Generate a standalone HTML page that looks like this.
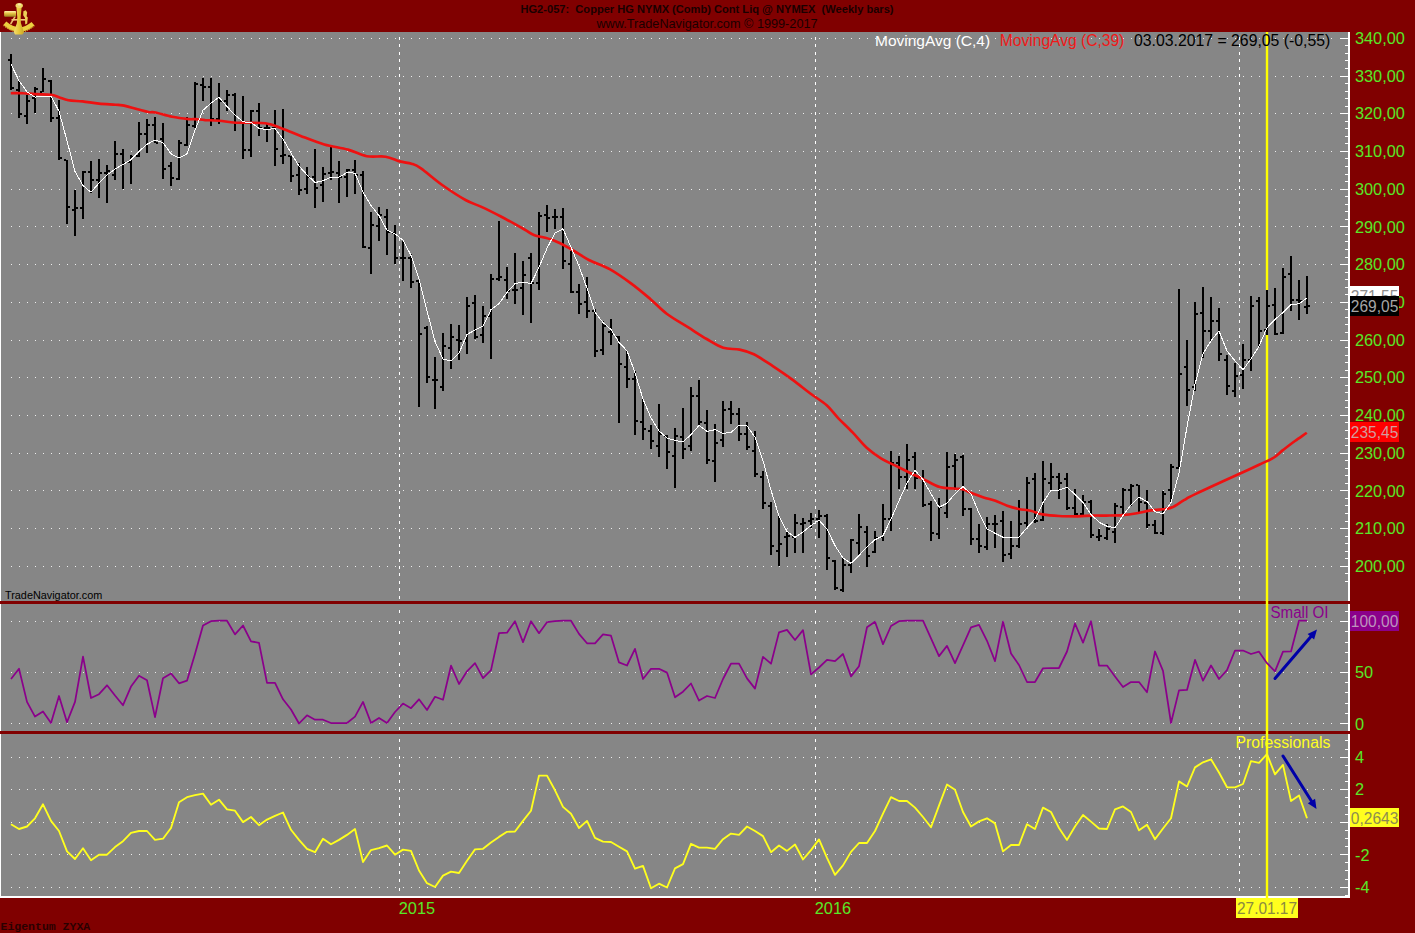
<!DOCTYPE html><html><head><meta charset="utf-8"><title>chart</title><style>
html,body{margin:0;padding:0;background:#800000;}
body{width:1415px;height:933px;overflow:hidden;position:relative;font-family:"Liberation Sans",sans-serif;}
svg{position:absolute;left:0;top:0;}
text{font-family:"Liberation Sans",sans-serif;}
.mono{font-family:"Liberation Mono",monospace;}
</style></head><body>
<svg width="1415" height="933" viewBox="0 0 1415 933">
<rect x="0" y="0" width="1415" height="933" fill="#800000"/>
<rect x="0" y="32" width="1" height="866" fill="#fff"/>
<rect x="1" y="32" width="1348" height="865" fill="#868686"/>
<g fill="#fff" shape-rendering="crispEdges">
<path d="M11 566.5H1332" stroke="#fff" stroke-opacity="0.85" stroke-width="1" stroke-dasharray="1 7" fill="none"/>
<path d="M11 528.5H1332" stroke="#fff" stroke-opacity="0.85" stroke-width="1" stroke-dasharray="1 7" fill="none"/>
<path d="M11 490.5H1332" stroke="#fff" stroke-opacity="0.85" stroke-width="1" stroke-dasharray="1 7" fill="none"/>
<path d="M11 453.5H1332" stroke="#fff" stroke-opacity="0.85" stroke-width="1" stroke-dasharray="1 7" fill="none"/>
<path d="M11 415.5H1332" stroke="#fff" stroke-opacity="0.85" stroke-width="1" stroke-dasharray="1 7" fill="none"/>
<path d="M11 377.5H1332" stroke="#fff" stroke-opacity="0.85" stroke-width="1" stroke-dasharray="1 7" fill="none"/>
<path d="M11 340.5H1332" stroke="#fff" stroke-opacity="0.85" stroke-width="1" stroke-dasharray="1 7" fill="none"/>
<path d="M11 302.5H1332" stroke="#fff" stroke-opacity="0.85" stroke-width="1" stroke-dasharray="1 7" fill="none"/>
<path d="M11 264.5H1332" stroke="#fff" stroke-opacity="0.85" stroke-width="1" stroke-dasharray="1 7" fill="none"/>
<path d="M11 226.5H1332" stroke="#fff" stroke-opacity="0.85" stroke-width="1" stroke-dasharray="1 7" fill="none"/>
<path d="M11 189.5H1332" stroke="#fff" stroke-opacity="0.85" stroke-width="1" stroke-dasharray="1 7" fill="none"/>
<path d="M11 151.5H1332" stroke="#fff" stroke-opacity="0.85" stroke-width="1" stroke-dasharray="1 7" fill="none"/>
<path d="M11 113.5H1332" stroke="#fff" stroke-opacity="0.85" stroke-width="1" stroke-dasharray="1 7" fill="none"/>
<path d="M11 76.5H1332" stroke="#fff" stroke-opacity="0.85" stroke-width="1" stroke-dasharray="1 7" fill="none"/>
<path d="M11 38.5H1332" stroke="#fff" stroke-opacity="0.85" stroke-width="1" stroke-dasharray="1 7" fill="none"/>
<path d="M11 621.5H1332" stroke="#fff" stroke-opacity="0.85" stroke-width="1" stroke-dasharray="1 7" fill="none"/>
<path d="M11 672.5H1332" stroke="#fff" stroke-opacity="0.85" stroke-width="1" stroke-dasharray="1 7" fill="none"/>
<path d="M11 723.5H1332" stroke="#fff" stroke-opacity="0.85" stroke-width="1" stroke-dasharray="1 7" fill="none"/>
<path d="M11 757.5H1332" stroke="#fff" stroke-opacity="0.85" stroke-width="1" stroke-dasharray="1 7" fill="none"/>
<path d="M11 789.5H1332" stroke="#fff" stroke-opacity="0.85" stroke-width="1" stroke-dasharray="1 7" fill="none"/>
<path d="M11 822.5H1332" stroke="#fff" stroke-opacity="0.85" stroke-width="1" stroke-dasharray="1 7" fill="none"/>
<path d="M11 854.5H1332" stroke="#fff" stroke-opacity="0.85" stroke-width="1" stroke-dasharray="1 7" fill="none"/>
<path d="M11 887.5H1332" stroke="#fff" stroke-opacity="0.85" stroke-width="1" stroke-dasharray="1 7" fill="none"/>
</g>
<path d="M399.5 37V601" stroke="#fff" stroke-width="1" stroke-dasharray="3 4.45" fill="none" shape-rendering="crispEdges"/>
<path d="M399.5 610V731" stroke="#fff" stroke-width="1" stroke-dasharray="3 7.6" fill="none" shape-rendering="crispEdges"/>
<path d="M399.5 739V896" stroke="#fff" stroke-width="1" stroke-dasharray="3 5.25" fill="none" shape-rendering="crispEdges"/>
<path d="M815.5 37V601" stroke="#fff" stroke-width="1" stroke-dasharray="3 4.45" fill="none" shape-rendering="crispEdges"/>
<path d="M815.5 610V731" stroke="#fff" stroke-width="1" stroke-dasharray="3 7.6" fill="none" shape-rendering="crispEdges"/>
<path d="M815.5 739V896" stroke="#fff" stroke-width="1" stroke-dasharray="3 5.25" fill="none" shape-rendering="crispEdges"/>
<path d="M1239.5 37V601" stroke="#fff" stroke-width="1" stroke-dasharray="3 4.45" fill="none" shape-rendering="crispEdges"/>
<path d="M1239.5 610V731" stroke="#fff" stroke-width="1" stroke-dasharray="3 7.6" fill="none" shape-rendering="crispEdges"/>
<path d="M1239.5 739V896" stroke="#fff" stroke-width="1" stroke-dasharray="3 5.25" fill="none" shape-rendering="crispEdges"/>
<rect x="1265.8" y="32" width="2.4" height="866" fill="#ffff00"/>
<g fill="#000" shape-rendering="crispEdges">
<rect x="10" y="54" width="2" height="36"/>
<rect x="8" y="59" width="2" height="2"/>
<rect x="12" y="87" width="2" height="2"/>
<rect x="18" y="81" width="2" height="37"/>
<rect x="16" y="89" width="2" height="2"/>
<rect x="20" y="113" width="2" height="2"/>
<rect x="26" y="95" width="2" height="29"/>
<rect x="24" y="115" width="2" height="2"/>
<rect x="28" y="100" width="2" height="2"/>
<rect x="34" y="87" width="2" height="26"/>
<rect x="32" y="97" width="2" height="2"/>
<rect x="36" y="88" width="2" height="2"/>
<rect x="42" y="68" width="2" height="24"/>
<rect x="40" y="91" width="2" height="2"/>
<rect x="44" y="78" width="2" height="2"/>
<rect x="50" y="80" width="2" height="42"/>
<rect x="48" y="80" width="2" height="2"/>
<rect x="52" y="117" width="2" height="2"/>
<rect x="58" y="100" width="2" height="60"/>
<rect x="56" y="117" width="2" height="2"/>
<rect x="60" y="157" width="2" height="2"/>
<rect x="66" y="160" width="2" height="64"/>
<rect x="64" y="159" width="2" height="2"/>
<rect x="68" y="206" width="2" height="2"/>
<rect x="74" y="190" width="2" height="46"/>
<rect x="72" y="209" width="2" height="2"/>
<rect x="76" y="207" width="2" height="2"/>
<rect x="82" y="171" width="2" height="48"/>
<rect x="80" y="207" width="2" height="2"/>
<rect x="84" y="171" width="2" height="2"/>
<rect x="90" y="161" width="2" height="32"/>
<rect x="88" y="171" width="2" height="2"/>
<rect x="92" y="179" width="2" height="2"/>
<rect x="98" y="159" width="2" height="39"/>
<rect x="96" y="179" width="2" height="2"/>
<rect x="100" y="172" width="2" height="2"/>
<rect x="106" y="165" width="2" height="38"/>
<rect x="104" y="172" width="2" height="2"/>
<rect x="108" y="170" width="2" height="2"/>
<rect x="114" y="141" width="2" height="39"/>
<rect x="112" y="174" width="2" height="2"/>
<rect x="116" y="153" width="2" height="2"/>
<rect x="122" y="149" width="2" height="40"/>
<rect x="120" y="153" width="2" height="2"/>
<rect x="124" y="162" width="2" height="2"/>
<rect x="130" y="155" width="2" height="29"/>
<rect x="128" y="161" width="2" height="2"/>
<rect x="132" y="156" width="2" height="2"/>
<rect x="138" y="122" width="2" height="35"/>
<rect x="136" y="155" width="2" height="2"/>
<rect x="140" y="133" width="2" height="2"/>
<rect x="146" y="119" width="2" height="34"/>
<rect x="144" y="133" width="2" height="2"/>
<rect x="148" y="124" width="2" height="2"/>
<rect x="154" y="117" width="2" height="26"/>
<rect x="152" y="124" width="2" height="2"/>
<rect x="156" y="142" width="2" height="2"/>
<rect x="162" y="123" width="2" height="56"/>
<rect x="160" y="138" width="2" height="2"/>
<rect x="164" y="168" width="2" height="2"/>
<rect x="170" y="162" width="2" height="24"/>
<rect x="168" y="165" width="2" height="2"/>
<rect x="172" y="177" width="2" height="2"/>
<rect x="178" y="140" width="2" height="40"/>
<rect x="176" y="178" width="2" height="2"/>
<rect x="180" y="142" width="2" height="2"/>
<rect x="186" y="117" width="2" height="29"/>
<rect x="184" y="144" width="2" height="2"/>
<rect x="188" y="124" width="2" height="2"/>
<rect x="194" y="82" width="2" height="46"/>
<rect x="192" y="125" width="2" height="2"/>
<rect x="196" y="83" width="2" height="2"/>
<rect x="202" y="78" width="2" height="23"/>
<rect x="200" y="84" width="2" height="2"/>
<rect x="204" y="86" width="2" height="2"/>
<rect x="210" y="78" width="2" height="48"/>
<rect x="208" y="86" width="2" height="2"/>
<rect x="212" y="118" width="2" height="2"/>
<rect x="218" y="83" width="2" height="41"/>
<rect x="216" y="118" width="2" height="2"/>
<rect x="220" y="100" width="2" height="2"/>
<rect x="226" y="90" width="2" height="21"/>
<rect x="224" y="100" width="2" height="2"/>
<rect x="228" y="94" width="2" height="2"/>
<rect x="234" y="93" width="2" height="38"/>
<rect x="232" y="94" width="2" height="2"/>
<rect x="236" y="122" width="2" height="2"/>
<rect x="242" y="96" width="2" height="63"/>
<rect x="240" y="122" width="2" height="2"/>
<rect x="244" y="149" width="2" height="2"/>
<rect x="250" y="110" width="2" height="47"/>
<rect x="248" y="149" width="2" height="2"/>
<rect x="252" y="110" width="2" height="2"/>
<rect x="258" y="103" width="2" height="33"/>
<rect x="256" y="110" width="2" height="2"/>
<rect x="260" y="127" width="2" height="2"/>
<rect x="266" y="124" width="2" height="18"/>
<rect x="264" y="127" width="2" height="2"/>
<rect x="268" y="127" width="2" height="2"/>
<rect x="274" y="110" width="2" height="56"/>
<rect x="272" y="127" width="2" height="2"/>
<rect x="276" y="148" width="2" height="2"/>
<rect x="282" y="109" width="2" height="55"/>
<rect x="280" y="155" width="2" height="2"/>
<rect x="284" y="154" width="2" height="2"/>
<rect x="290" y="156" width="2" height="26"/>
<rect x="288" y="155" width="2" height="2"/>
<rect x="292" y="175" width="2" height="2"/>
<rect x="298" y="163" width="2" height="32"/>
<rect x="296" y="174" width="2" height="2"/>
<rect x="300" y="189" width="2" height="2"/>
<rect x="306" y="167" width="2" height="27"/>
<rect x="304" y="188" width="2" height="2"/>
<rect x="308" y="176" width="2" height="2"/>
<rect x="314" y="149" width="2" height="59"/>
<rect x="312" y="176" width="2" height="2"/>
<rect x="316" y="187" width="2" height="2"/>
<rect x="322" y="167" width="2" height="35"/>
<rect x="320" y="184" width="2" height="2"/>
<rect x="324" y="173" width="2" height="2"/>
<rect x="330" y="147" width="2" height="33"/>
<rect x="328" y="172" width="2" height="2"/>
<rect x="332" y="171" width="2" height="2"/>
<rect x="338" y="161" width="2" height="42"/>
<rect x="336" y="172" width="2" height="2"/>
<rect x="340" y="176" width="2" height="2"/>
<rect x="346" y="169" width="2" height="28"/>
<rect x="344" y="176" width="2" height="2"/>
<rect x="348" y="169" width="2" height="2"/>
<rect x="354" y="160" width="2" height="34"/>
<rect x="352" y="169" width="2" height="2"/>
<rect x="356" y="174" width="2" height="2"/>
<rect x="362" y="171" width="2" height="77"/>
<rect x="360" y="174" width="2" height="2"/>
<rect x="364" y="246" width="2" height="2"/>
<rect x="370" y="212" width="2" height="62"/>
<rect x="368" y="247" width="2" height="2"/>
<rect x="372" y="224" width="2" height="2"/>
<rect x="378" y="207" width="2" height="34"/>
<rect x="376" y="225" width="2" height="2"/>
<rect x="380" y="214" width="2" height="2"/>
<rect x="386" y="209" width="2" height="46"/>
<rect x="384" y="216" width="2" height="2"/>
<rect x="388" y="231" width="2" height="2"/>
<rect x="394" y="225" width="2" height="39"/>
<rect x="392" y="232" width="2" height="2"/>
<rect x="396" y="257" width="2" height="2"/>
<rect x="402" y="241" width="2" height="40"/>
<rect x="400" y="257" width="2" height="2"/>
<rect x="404" y="257" width="2" height="2"/>
<rect x="410" y="254" width="2" height="34"/>
<rect x="408" y="257" width="2" height="2"/>
<rect x="412" y="281" width="2" height="2"/>
<rect x="418" y="280" width="2" height="127"/>
<rect x="416" y="280" width="2" height="2"/>
<rect x="420" y="333" width="2" height="2"/>
<rect x="426" y="326" width="2" height="57"/>
<rect x="424" y="327" width="2" height="2"/>
<rect x="428" y="376" width="2" height="2"/>
<rect x="434" y="357" width="2" height="52"/>
<rect x="432" y="379" width="2" height="2"/>
<rect x="436" y="379" width="2" height="2"/>
<rect x="442" y="333" width="2" height="58"/>
<rect x="440" y="386" width="2" height="2"/>
<rect x="444" y="345" width="2" height="2"/>
<rect x="450" y="324" width="2" height="45"/>
<rect x="448" y="347" width="2" height="2"/>
<rect x="452" y="336" width="2" height="2"/>
<rect x="458" y="325" width="2" height="35"/>
<rect x="456" y="339" width="2" height="2"/>
<rect x="460" y="340" width="2" height="2"/>
<rect x="466" y="297" width="2" height="57"/>
<rect x="464" y="340" width="2" height="2"/>
<rect x="468" y="305" width="2" height="2"/>
<rect x="474" y="295" width="2" height="44"/>
<rect x="472" y="302" width="2" height="2"/>
<rect x="476" y="336" width="2" height="2"/>
<rect x="482" y="306" width="2" height="37"/>
<rect x="480" y="334" width="2" height="2"/>
<rect x="484" y="315" width="2" height="2"/>
<rect x="490" y="274" width="2" height="85"/>
<rect x="488" y="315" width="2" height="2"/>
<rect x="492" y="278" width="2" height="2"/>
<rect x="498" y="221" width="2" height="60"/>
<rect x="496" y="278" width="2" height="2"/>
<rect x="500" y="276" width="2" height="2"/>
<rect x="506" y="267" width="2" height="32"/>
<rect x="504" y="279" width="2" height="2"/>
<rect x="508" y="290" width="2" height="2"/>
<rect x="514" y="253" width="2" height="51"/>
<rect x="512" y="289" width="2" height="2"/>
<rect x="516" y="289" width="2" height="2"/>
<rect x="522" y="261" width="2" height="54"/>
<rect x="520" y="287" width="2" height="2"/>
<rect x="524" y="274" width="2" height="2"/>
<rect x="530" y="253" width="2" height="70"/>
<rect x="528" y="257" width="2" height="2"/>
<rect x="532" y="282" width="2" height="2"/>
<rect x="538" y="212" width="2" height="78"/>
<rect x="536" y="282" width="2" height="2"/>
<rect x="540" y="215" width="2" height="2"/>
<rect x="546" y="205" width="2" height="27"/>
<rect x="544" y="214" width="2" height="2"/>
<rect x="548" y="217" width="2" height="2"/>
<rect x="554" y="209" width="2" height="20"/>
<rect x="552" y="216" width="2" height="2"/>
<rect x="556" y="216" width="2" height="2"/>
<rect x="562" y="208" width="2" height="61"/>
<rect x="560" y="216" width="2" height="2"/>
<rect x="564" y="260" width="2" height="2"/>
<rect x="570" y="251" width="2" height="42"/>
<rect x="568" y="263" width="2" height="2"/>
<rect x="572" y="291" width="2" height="2"/>
<rect x="578" y="284" width="2" height="30"/>
<rect x="576" y="291" width="2" height="2"/>
<rect x="580" y="303" width="2" height="2"/>
<rect x="586" y="277" width="2" height="41"/>
<rect x="584" y="301" width="2" height="2"/>
<rect x="588" y="310" width="2" height="2"/>
<rect x="594" y="309" width="2" height="48"/>
<rect x="592" y="310" width="2" height="2"/>
<rect x="596" y="350" width="2" height="2"/>
<rect x="602" y="321" width="2" height="34"/>
<rect x="600" y="349" width="2" height="2"/>
<rect x="604" y="325" width="2" height="2"/>
<rect x="610" y="319" width="2" height="26"/>
<rect x="608" y="331" width="2" height="2"/>
<rect x="612" y="333" width="2" height="2"/>
<rect x="618" y="336" width="2" height="87"/>
<rect x="616" y="336" width="2" height="2"/>
<rect x="620" y="363" width="2" height="2"/>
<rect x="626" y="351" width="2" height="37"/>
<rect x="624" y="366" width="2" height="2"/>
<rect x="628" y="378" width="2" height="2"/>
<rect x="634" y="371" width="2" height="64"/>
<rect x="632" y="378" width="2" height="2"/>
<rect x="636" y="420" width="2" height="2"/>
<rect x="642" y="399" width="2" height="41"/>
<rect x="640" y="421" width="2" height="2"/>
<rect x="644" y="428" width="2" height="2"/>
<rect x="650" y="425" width="2" height="24"/>
<rect x="648" y="430" width="2" height="2"/>
<rect x="652" y="440" width="2" height="2"/>
<rect x="658" y="404" width="2" height="53"/>
<rect x="656" y="445" width="2" height="2"/>
<rect x="660" y="433" width="2" height="2"/>
<rect x="666" y="435" width="2" height="34"/>
<rect x="664" y="435" width="2" height="2"/>
<rect x="668" y="451" width="2" height="2"/>
<rect x="674" y="428" width="2" height="60"/>
<rect x="672" y="455" width="2" height="2"/>
<rect x="676" y="435" width="2" height="2"/>
<rect x="682" y="408" width="2" height="51"/>
<rect x="680" y="436" width="2" height="2"/>
<rect x="684" y="448" width="2" height="2"/>
<rect x="690" y="387" width="2" height="64"/>
<rect x="688" y="445" width="2" height="2"/>
<rect x="692" y="395" width="2" height="2"/>
<rect x="698" y="380" width="2" height="46"/>
<rect x="696" y="395" width="2" height="2"/>
<rect x="700" y="421" width="2" height="2"/>
<rect x="706" y="410" width="2" height="54"/>
<rect x="704" y="422" width="2" height="2"/>
<rect x="708" y="459" width="2" height="2"/>
<rect x="714" y="424" width="2" height="58"/>
<rect x="712" y="460" width="2" height="2"/>
<rect x="716" y="442" width="2" height="2"/>
<rect x="722" y="401" width="2" height="46"/>
<rect x="720" y="439" width="2" height="2"/>
<rect x="724" y="409" width="2" height="2"/>
<rect x="730" y="401" width="2" height="23"/>
<rect x="728" y="408" width="2" height="2"/>
<rect x="732" y="413" width="2" height="2"/>
<rect x="738" y="408" width="2" height="33"/>
<rect x="736" y="413" width="2" height="2"/>
<rect x="740" y="433" width="2" height="2"/>
<rect x="746" y="422" width="2" height="28"/>
<rect x="744" y="433" width="2" height="2"/>
<rect x="748" y="446" width="2" height="2"/>
<rect x="754" y="431" width="2" height="46"/>
<rect x="752" y="450" width="2" height="2"/>
<rect x="756" y="473" width="2" height="2"/>
<rect x="762" y="471" width="2" height="38"/>
<rect x="760" y="476" width="2" height="2"/>
<rect x="764" y="502" width="2" height="2"/>
<rect x="770" y="502" width="2" height="53"/>
<rect x="768" y="505" width="2" height="2"/>
<rect x="772" y="545" width="2" height="2"/>
<rect x="778" y="516" width="2" height="50"/>
<rect x="776" y="550" width="2" height="2"/>
<rect x="780" y="543" width="2" height="2"/>
<rect x="786" y="531" width="2" height="26"/>
<rect x="784" y="536" width="2" height="2"/>
<rect x="788" y="535" width="2" height="2"/>
<rect x="794" y="514" width="2" height="39"/>
<rect x="792" y="536" width="2" height="2"/>
<rect x="796" y="522" width="2" height="2"/>
<rect x="802" y="518" width="2" height="35"/>
<rect x="800" y="523" width="2" height="2"/>
<rect x="804" y="522" width="2" height="2"/>
<rect x="810" y="513" width="2" height="15"/>
<rect x="808" y="520" width="2" height="2"/>
<rect x="812" y="518" width="2" height="2"/>
<rect x="818" y="510" width="2" height="28"/>
<rect x="816" y="518" width="2" height="2"/>
<rect x="820" y="515" width="2" height="2"/>
<rect x="826" y="514" width="2" height="56"/>
<rect x="824" y="515" width="2" height="2"/>
<rect x="828" y="557" width="2" height="2"/>
<rect x="834" y="560" width="2" height="30"/>
<rect x="832" y="560" width="2" height="2"/>
<rect x="836" y="587" width="2" height="2"/>
<rect x="842" y="558" width="2" height="34"/>
<rect x="840" y="589" width="2" height="2"/>
<rect x="844" y="564" width="2" height="2"/>
<rect x="850" y="539" width="2" height="34"/>
<rect x="848" y="564" width="2" height="2"/>
<rect x="852" y="539" width="2" height="2"/>
<rect x="858" y="514" width="2" height="41"/>
<rect x="856" y="542" width="2" height="2"/>
<rect x="860" y="526" width="2" height="2"/>
<rect x="866" y="526" width="2" height="41"/>
<rect x="864" y="531" width="2" height="2"/>
<rect x="868" y="555" width="2" height="2"/>
<rect x="874" y="531" width="2" height="22"/>
<rect x="872" y="551" width="2" height="2"/>
<rect x="876" y="537" width="2" height="2"/>
<rect x="882" y="504" width="2" height="37"/>
<rect x="880" y="536" width="2" height="2"/>
<rect x="884" y="518" width="2" height="2"/>
<rect x="890" y="451" width="2" height="80"/>
<rect x="888" y="518" width="2" height="2"/>
<rect x="892" y="462" width="2" height="2"/>
<rect x="898" y="456" width="2" height="33"/>
<rect x="896" y="462" width="2" height="2"/>
<rect x="900" y="476" width="2" height="2"/>
<rect x="906" y="444" width="2" height="45"/>
<rect x="904" y="476" width="2" height="2"/>
<rect x="908" y="459" width="2" height="2"/>
<rect x="914" y="452" width="2" height="37"/>
<rect x="912" y="456" width="2" height="2"/>
<rect x="916" y="477" width="2" height="2"/>
<rect x="922" y="470" width="2" height="37"/>
<rect x="920" y="477" width="2" height="2"/>
<rect x="924" y="504" width="2" height="2"/>
<rect x="930" y="501" width="2" height="40"/>
<rect x="928" y="503" width="2" height="2"/>
<rect x="932" y="532" width="2" height="2"/>
<rect x="938" y="498" width="2" height="41"/>
<rect x="936" y="533" width="2" height="2"/>
<rect x="940" y="506" width="2" height="2"/>
<rect x="946" y="452" width="2" height="66"/>
<rect x="944" y="512" width="2" height="2"/>
<rect x="948" y="466" width="2" height="2"/>
<rect x="954" y="454" width="2" height="36"/>
<rect x="952" y="465" width="2" height="2"/>
<rect x="956" y="459" width="2" height="2"/>
<rect x="962" y="455" width="2" height="61"/>
<rect x="960" y="456" width="2" height="2"/>
<rect x="964" y="508" width="2" height="2"/>
<rect x="970" y="508" width="2" height="37"/>
<rect x="968" y="508" width="2" height="2"/>
<rect x="972" y="538" width="2" height="2"/>
<rect x="978" y="524" width="2" height="29"/>
<rect x="976" y="538" width="2" height="2"/>
<rect x="980" y="545" width="2" height="2"/>
<rect x="986" y="517" width="2" height="33"/>
<rect x="984" y="546" width="2" height="2"/>
<rect x="988" y="523" width="2" height="2"/>
<rect x="994" y="515" width="2" height="33"/>
<rect x="992" y="523" width="2" height="2"/>
<rect x="996" y="523" width="2" height="2"/>
<rect x="1002" y="511" width="2" height="51"/>
<rect x="1000" y="520" width="2" height="2"/>
<rect x="1004" y="554" width="2" height="2"/>
<rect x="1010" y="521" width="2" height="38"/>
<rect x="1008" y="553" width="2" height="2"/>
<rect x="1012" y="545" width="2" height="2"/>
<rect x="1018" y="500" width="2" height="48"/>
<rect x="1016" y="545" width="2" height="2"/>
<rect x="1020" y="523" width="2" height="2"/>
<rect x="1026" y="477" width="2" height="50"/>
<rect x="1024" y="522" width="2" height="2"/>
<rect x="1028" y="482" width="2" height="2"/>
<rect x="1034" y="473" width="2" height="50"/>
<rect x="1032" y="478" width="2" height="2"/>
<rect x="1036" y="520" width="2" height="2"/>
<rect x="1042" y="461" width="2" height="60"/>
<rect x="1040" y="519" width="2" height="2"/>
<rect x="1044" y="478" width="2" height="2"/>
<rect x="1050" y="463" width="2" height="27"/>
<rect x="1048" y="482" width="2" height="2"/>
<rect x="1052" y="476" width="2" height="2"/>
<rect x="1058" y="473" width="2" height="26"/>
<rect x="1056" y="476" width="2" height="2"/>
<rect x="1060" y="482" width="2" height="2"/>
<rect x="1066" y="473" width="2" height="37"/>
<rect x="1064" y="478" width="2" height="2"/>
<rect x="1068" y="507" width="2" height="2"/>
<rect x="1074" y="489" width="2" height="27"/>
<rect x="1072" y="507" width="2" height="2"/>
<rect x="1076" y="513" width="2" height="2"/>
<rect x="1082" y="495" width="2" height="22"/>
<rect x="1080" y="513" width="2" height="2"/>
<rect x="1084" y="501" width="2" height="2"/>
<rect x="1090" y="500" width="2" height="38"/>
<rect x="1088" y="501" width="2" height="2"/>
<rect x="1092" y="534" width="2" height="2"/>
<rect x="1098" y="529" width="2" height="12"/>
<rect x="1096" y="536" width="2" height="2"/>
<rect x="1100" y="535" width="2" height="2"/>
<rect x="1106" y="524" width="2" height="16"/>
<rect x="1104" y="537" width="2" height="2"/>
<rect x="1108" y="528" width="2" height="2"/>
<rect x="1114" y="503" width="2" height="40"/>
<rect x="1112" y="531" width="2" height="2"/>
<rect x="1116" y="505" width="2" height="2"/>
<rect x="1122" y="488" width="2" height="28"/>
<rect x="1120" y="506" width="2" height="2"/>
<rect x="1124" y="489" width="2" height="2"/>
<rect x="1130" y="484" width="2" height="22"/>
<rect x="1128" y="489" width="2" height="2"/>
<rect x="1132" y="485" width="2" height="2"/>
<rect x="1138" y="485" width="2" height="27"/>
<rect x="1136" y="484" width="2" height="2"/>
<rect x="1140" y="501" width="2" height="2"/>
<rect x="1146" y="490" width="2" height="38"/>
<rect x="1144" y="502" width="2" height="2"/>
<rect x="1148" y="524" width="2" height="2"/>
<rect x="1154" y="520" width="2" height="14"/>
<rect x="1152" y="524" width="2" height="2"/>
<rect x="1156" y="532" width="2" height="2"/>
<rect x="1162" y="491" width="2" height="44"/>
<rect x="1160" y="532" width="2" height="2"/>
<rect x="1164" y="493" width="2" height="2"/>
<rect x="1170" y="464" width="2" height="39"/>
<rect x="1168" y="489" width="2" height="2"/>
<rect x="1172" y="466" width="2" height="2"/>
<rect x="1178" y="289" width="2" height="180"/>
<rect x="1176" y="467" width="2" height="2"/>
<rect x="1180" y="373" width="2" height="2"/>
<rect x="1186" y="340" width="2" height="66"/>
<rect x="1184" y="366" width="2" height="2"/>
<rect x="1188" y="389" width="2" height="2"/>
<rect x="1194" y="302" width="2" height="89"/>
<rect x="1192" y="386" width="2" height="2"/>
<rect x="1196" y="313" width="2" height="2"/>
<rect x="1202" y="287" width="2" height="71"/>
<rect x="1200" y="312" width="2" height="2"/>
<rect x="1204" y="330" width="2" height="2"/>
<rect x="1210" y="297" width="2" height="44"/>
<rect x="1208" y="330" width="2" height="2"/>
<rect x="1212" y="320" width="2" height="2"/>
<rect x="1218" y="308" width="2" height="53"/>
<rect x="1216" y="320" width="2" height="2"/>
<rect x="1220" y="353" width="2" height="2"/>
<rect x="1226" y="355" width="2" height="40"/>
<rect x="1224" y="359" width="2" height="2"/>
<rect x="1228" y="385" width="2" height="2"/>
<rect x="1234" y="363" width="2" height="34"/>
<rect x="1232" y="390" width="2" height="2"/>
<rect x="1236" y="375" width="2" height="2"/>
<rect x="1242" y="344" width="2" height="45"/>
<rect x="1240" y="374" width="2" height="2"/>
<rect x="1244" y="359" width="2" height="2"/>
<rect x="1250" y="296" width="2" height="75"/>
<rect x="1248" y="359" width="2" height="2"/>
<rect x="1252" y="305" width="2" height="2"/>
<rect x="1258" y="297" width="2" height="50"/>
<rect x="1256" y="300" width="2" height="2"/>
<rect x="1260" y="330" width="2" height="2"/>
<rect x="1265" y="290" width="4" height="45" fill="#868686"/>
<rect x="1266" y="290" width="2" height="45"/>
<rect x="1264" y="329" width="2" height="2"/>
<rect x="1268" y="305" width="2" height="2"/>
<rect x="1274" y="288" width="2" height="47"/>
<rect x="1272" y="304" width="2" height="2"/>
<rect x="1276" y="333" width="2" height="2"/>
<rect x="1282" y="268" width="2" height="66"/>
<rect x="1280" y="332" width="2" height="2"/>
<rect x="1284" y="276" width="2" height="2"/>
<rect x="1290" y="256" width="2" height="55"/>
<rect x="1288" y="273" width="2" height="2"/>
<rect x="1292" y="299" width="2" height="2"/>
<rect x="1298" y="280" width="2" height="40"/>
<rect x="1296" y="299" width="2" height="2"/>
<rect x="1300" y="300" width="2" height="2"/>
<rect x="1306" y="276" width="2" height="38"/>
<rect x="1304" y="306" width="2" height="2"/>
<rect x="1308" y="305" width="2" height="2"/>
</g>
<path fill="none" stroke="#ee1111" stroke-width="2.65" stroke-linejoin="round" d="M10.8 93.2C13.0 93.2 19.5 93.0 23.6 93.2C27.7 93.3 30.8 93.9 35.4 94.1C39.9 94.4 47.0 94.3 50.9 94.8C54.9 95.3 56.0 96.3 58.9 97.2C61.8 98.1 64.4 99.5 68.4 100.3C72.3 101.0 77.4 100.9 82.5 101.4C87.6 102.0 93.5 103.0 99.0 103.6C104.5 104.1 111.6 104.4 115.5 104.7C119.4 105.0 119.1 104.7 122.6 105.4C126.1 106.1 132.4 107.9 136.7 109.0C141.1 110.1 145.4 111.5 148.5 112.0C151.7 112.6 151.7 111.7 155.6 112.5C159.5 113.3 166.6 115.7 172.1 116.8C177.6 117.9 184.7 118.7 188.6 119.1C192.5 119.5 192.9 119.0 195.7 119.1C198.4 119.3 201.2 119.8 205.1 120.1C209.0 120.3 214.1 120.3 219.3 120.8C224.4 121.2 228.1 122.2 235.8 122.7C243.4 123.1 257.7 122.2 265.4 123.2C273.0 124.1 276.0 126.2 281.9 128.4C287.8 130.5 293.7 133.2 300.7 135.9C307.8 138.6 316.4 142.1 324.3 144.4C332.2 146.7 340.8 147.6 347.9 149.6C355.0 151.6 360.5 155.0 366.7 156.2C373.0 157.4 380.1 155.8 385.6 156.7C391.1 157.5 395.4 160.2 399.7 161.4C404.1 162.6 408.0 162.6 411.5 163.7C415.1 164.9 415.9 164.9 421.0 168.4C426.1 172.0 434.8 179.7 442.2 185.0C449.6 190.2 458.9 196.3 465.5 200.0C472.2 203.7 476.1 204.3 482.0 207.1C487.9 209.8 493.8 212.8 500.9 216.5C508.0 220.2 519.0 226.4 524.5 229.5C530.0 232.5 529.2 233.1 533.9 234.9C538.6 236.7 546.5 237.6 552.8 240.1C559.0 242.5 565.6 246.2 571.6 249.5C577.6 252.8 582.4 256.7 588.9 260.0C595.3 263.3 603.0 265.5 610.1 269.4C617.2 273.4 624.6 278.7 631.3 283.6C638.0 288.5 644.3 293.9 650.2 298.9C656.1 303.9 660.4 309.0 666.7 313.8C672.9 318.5 681.2 323.0 687.9 327.2C694.6 331.4 700.8 335.6 706.7 339.0C712.6 342.4 717.7 345.9 723.2 347.7C728.7 349.5 734.6 348.5 739.7 349.6C744.9 350.7 748.4 351.6 753.9 354.3C759.4 357.1 766.5 362.0 772.8 366.1C779.0 370.2 785.4 374.5 791.6 379.1C797.8 383.6 804.2 388.8 810.0 393.2C815.8 397.6 821.9 401.1 826.7 405.3C831.4 409.5 834.1 413.8 838.4 418.3C842.8 422.8 847.9 427.5 852.6 432.4C857.3 437.3 862.0 443.4 866.7 447.8C871.5 452.1 876.2 455.4 880.9 458.4C885.6 461.3 890.3 463.1 895.0 465.4C899.7 467.8 904.5 470.2 909.2 472.5C913.9 474.8 918.2 476.7 923.3 479.1C928.4 481.6 934.7 485.6 939.8 487.1C944.9 488.7 950.0 488.2 954.0 488.5C957.9 488.9 960.7 488.8 963.4 489.5C966.1 490.2 966.6 491.2 970.0 492.6C973.4 493.9 979.3 496.0 983.6 497.4C987.8 498.8 991.4 499.3 995.4 500.7C999.3 502.1 1003.2 504.3 1007.2 505.7C1011.1 507.0 1015.0 508.1 1018.9 509.0C1022.9 509.8 1026.8 509.9 1030.7 510.8C1034.7 511.7 1037.8 513.5 1042.5 514.4C1047.2 515.2 1053.1 515.7 1059.0 516.0C1064.9 516.3 1072.4 516.3 1077.9 516.3C1083.4 516.2 1087.3 515.7 1092.0 515.6C1096.7 515.4 1101.1 515.6 1106.2 515.6C1111.3 515.5 1117.6 515.5 1122.7 515.1C1127.8 514.7 1132.1 514.0 1136.8 513.2C1141.5 512.4 1146.2 511.1 1151.0 510.4C1155.7 509.7 1161.6 509.5 1165.1 509.0C1168.6 508.4 1169.0 508.8 1172.2 507.3C1175.3 505.9 1180.0 502.5 1184.0 500.2C1187.9 498.0 1185.1 498.9 1195.8 493.9C1206.4 488.8 1236.8 475.0 1247.9 470.0C1258.9 464.9 1257.7 465.4 1262.0 463.4C1266.4 461.3 1270.5 459.7 1274.0 457.5C1277.6 455.2 1279.7 452.7 1283.2 449.9C1286.7 447.2 1291.1 443.8 1295.0 441.0C1299.0 438.1 1304.9 434.1 1306.8 432.7"/>
<polyline fill="none" stroke="#fff" stroke-width="1" stroke-linejoin="round" shape-rendering="crispEdges" points="11,64.2 19,80.7 27,91.8 35,97.2 43,96.0 51,96.0 59,111.3 67,140.8 75,171.5 83,185.6 91,192.2 99,183.2 107,175.0 115,169.1 123,164.4 131,159.7 139,151.4 147,144.3 155,140.1 163,142.7 171,153.8 179,158.0 187,153.8 195,130.2 203,110.2 211,103.1 219,97.2 227,106.6 235,114.9 243,121.8 251,122.5 259,128.4 267,129.5 275,128.4 283,139.0 291,153.1 299,166.1 307,174.8 315,182.6 323,180.7 331,177.2 339,177.2 347,172.5 355,173.2 363,192.0 371,205.5 379,215.6 387,230.2 395,233.8 403,240.1 411,255.4 419,279.0 427,310.8 435,341.5 443,359.1 451,360.8 459,353.2 467,334.4 475,330.1 483,326.1 491,309.6 499,303.7 507,292.4 515,283.7 523,282.0 531,283.7 539,267.2 547,248.3 555,233.0 563,228.8 571,247.2 579,266.0 587,288.3 595,312.3 603,322.5 611,329.5 619,342.5 627,350.8 635,372.7 643,399.1 651,418.0 659,430.9 667,438.0 675,440.4 683,442.0 691,434.5 699,425.5 707,431.4 715,429.7 723,433.3 731,432.4 739,425.4 747,425.8 755,437.2 763,460.7 771,490.2 779,516.1 787,531.5 795,537.3 803,531.9 811,525.6 819,520.1 827,529.1 835,545.6 843,557.9 851,563.3 859,555.5 867,546.8 875,539.7 883,535.7 891,519.2 899,500.8 907,483.1 915,470.2 923,479.6 931,493.7 939,507.2 947,503.2 955,493.7 963,486.6 971,493.9 979,513.2 987,529.0 995,533.2 1003,537.2 1011,537.2 1019,537.2 1027,527.8 1035,519.1 1043,502.6 1051,490.3 1059,490.1 1067,487.3 1075,494.3 1083,502.6 1091,514.4 1099,522.2 1107,526.2 1115,527.8 1123,515.6 1131,505.0 1139,497.2 1147,501.4 1155,511.6 1163,513.9 1171,502.6 1179,473.1 1187,426.8 1195,384.4 1203,353.7 1211,340.8 1219,330.9 1227,350.9 1235,360.8 1243,369.8 1251,358.9 1259,346.2 1267,327.8 1275,319.5 1283,312.5 1291,304.7 1299,303.8 1307,297.9"/>
<polyline fill="none" stroke="#8b008b" stroke-width="1.75" stroke-linejoin="round" points="11,679.0 19,668.8 27,701.9 35,716.6 43,711.5 51,723.0 59,696.0 67,722.2 75,701.9 83,656.6 91,698.0 99,694.2 107,685.3 115,695.5 123,705.2 131,686.6 139,675.7 147,680.2 155,717.1 163,678.2 171,673.4 179,683.3 187,680.7 195,654.0 203,625.5 211,621.2 219,620.7 227,620.7 235,634.4 243,625.5 251,641.3 259,642.8 267,682.8 275,682.8 283,699.3 291,709.5 299,723.5 307,715.3 315,719.7 323,719.7 331,723.0 339,723.0 347,723.0 355,716.6 363,701.9 371,723.0 379,717.9 387,723.0 395,712.0 403,703.6 411,708.2 419,699.3 427,710.0 435,696.8 443,699.8 451,665.7 459,684.0 467,671.3 475,663.2 483,678.2 491,670.1 499,633.2 507,632.7 515,621.2 523,642.1 531,621.2 539,633.2 547,622.2 555,621.2 563,620.7 571,620.7 579,633.9 587,643.3 595,643.3 603,634.4 611,635.7 619,662.4 627,665.5 635,648.9 643,679.0 651,668.8 659,668.8 667,672.6 675,697.3 683,691.7 691,683.5 699,700.6 707,696.0 715,698.0 723,679.0 731,663.7 739,663.7 747,678.4 755,688.6 763,656.8 771,663.7 779,632.4 787,629.9 795,640.0 803,630.1 811,674.4 819,667.5 827,659.9 835,661.1 843,654.0 851,676.4 859,666.2 867,627.3 875,621.7 883,644.1 891,626.0 899,621.2 907,620.7 915,620.7 923,620.7 931,638.3 939,656.1 947,645.9 955,663.2 963,645.4 971,627.3 979,624.8 987,640.8 995,661.1 1003,621.7 1011,653.5 1019,665.0 1027,682.0 1035,682.0 1043,668.3 1051,668.0 1059,668.0 1067,651.5 1075,623.5 1083,642.6 1091,621.2 1099,665.5 1107,665.5 1115,676.4 1123,687.1 1131,682.0 1139,682.0 1147,692.2 1155,651.5 1163,670.8 1171,723.0 1179,690.4 1187,689.9 1195,659.9 1203,680.7 1211,665.5 1219,679.0 1227,670.1 1235,650.5 1243,650.5 1251,654.0 1259,651.7 1267,663.2 1275,671.3 1283,651.7 1291,651.5 1299,620.7 1307,620.7"/>
<polyline fill="none" stroke="#ffff1e" stroke-width="1.85" stroke-linejoin="round" points="11,824.2 19,829.0 27,826.5 35,818.3 43,804.3 51,820.9 59,831.0 67,851.4 75,859.0 83,848.3 91,860.3 99,854.7 107,854.7 115,847.1 123,841.2 131,832.8 139,831.0 147,831.0 155,839.9 163,838.7 171,828.0 179,802.3 187,797.2 195,795.2 203,793.6 211,804.8 219,799.7 227,809.4 235,810.7 243,822.1 251,817.0 259,825.2 267,819.6 275,815.8 283,812.5 291,829.8 299,839.9 307,848.8 315,852.2 323,838.7 331,844.3 339,839.9 347,834.9 355,829.0 363,862.1 371,850.1 379,848.1 387,845.5 395,854.7 403,849.6 411,850.9 419,870.5 427,883.2 435,887.0 443,875.6 451,871.7 459,873.0 467,860.8 475,849.4 483,848.8 491,842.5 499,836.9 507,831.8 515,831.5 523,820.9 531,810.7 539,775.6 547,775.6 555,790.3 563,806.9 571,813.7 579,828.0 587,820.9 595,837.9 603,841.7 611,842.0 619,846.8 627,851.4 635,868.7 643,865.9 651,888.3 659,883.7 667,887.5 675,868.4 683,864.1 691,843.8 699,847.6 707,847.6 715,848.8 723,839.2 731,833.6 739,834.9 747,826.5 755,831.0 763,836.1 771,852.2 779,845.5 787,850.9 795,844.5 803,859.5 811,850.1 819,839.4 827,857.8 835,874.8 843,865.4 851,851.9 859,843.0 867,843.0 875,831.0 883,813.7 891,797.2 899,801.0 907,801.0 915,807.6 923,817.0 931,827.2 939,805.6 947,784.5 955,789.8 963,812.0 971,826.5 979,821.4 987,818.3 995,823.4 1003,851.4 1011,845.0 1019,845.0 1027,824.2 1035,829.0 1043,807.6 1051,812.0 1059,828.0 1067,839.9 1075,826.5 1083,815.0 1091,821.6 1099,828.5 1107,829.0 1115,809.4 1123,806.4 1131,812.0 1139,830.3 1147,824.7 1155,839.2 1163,828.5 1171,818.3 1179,781.4 1187,786.5 1195,767.4 1203,762.3 1211,759.3 1219,772.5 1227,787.3 1235,787.3 1243,784.0 1251,761.1 1259,762.9 1267,754.2 1275,774.3 1283,764.9 1291,801.0 1299,795.4 1307,818.3"/>
<rect x="0" y="601" width="1349" height="3" fill="#800000"/>
<rect x="0" y="731" width="1349" height="3" fill="#800000"/>
<rect x="1265.8" y="600" width="2.4" height="5" fill="#ffff00"/><rect x="1265.8" y="730" width="2.4" height="5" fill="#ffff00"/>
<rect x="1" y="896" width="1349" height="2" fill="#fff"/>
<rect x="1348" y="32" width="2" height="866" fill="#fff"/>
<rect x="1265.8" y="895" width="2.4" height="4" fill="#ffff00"/>
<rect x="1348" y="601" width="2" height="3" fill="#800000"/><rect x="1348" y="731" width="2" height="3" fill="#800000"/>
<g fill="#fff" shape-rendering="crispEdges">
<rect x="1345" y="581" width="3" height="1"/>
<rect x="1345" y="573" width="3" height="1"/>
<rect x="1340" y="566" width="8" height="1"/>
<rect x="1345" y="558" width="3" height="1"/>
<rect x="1345" y="551" width="3" height="1"/>
<rect x="1345" y="543" width="3" height="1"/>
<rect x="1345" y="536" width="3" height="1"/>
<rect x="1340" y="528" width="8" height="1"/>
<rect x="1345" y="521" width="3" height="1"/>
<rect x="1345" y="513" width="3" height="1"/>
<rect x="1345" y="505" width="3" height="1"/>
<rect x="1345" y="498" width="3" height="1"/>
<rect x="1340" y="490" width="8" height="1"/>
<rect x="1345" y="483" width="3" height="1"/>
<rect x="1345" y="475" width="3" height="1"/>
<rect x="1345" y="468" width="3" height="1"/>
<rect x="1345" y="460" width="3" height="1"/>
<rect x="1340" y="453" width="8" height="1"/>
<rect x="1345" y="445" width="3" height="1"/>
<rect x="1345" y="438" width="3" height="1"/>
<rect x="1345" y="430" width="3" height="1"/>
<rect x="1345" y="422" width="3" height="1"/>
<rect x="1340" y="415" width="8" height="1"/>
<rect x="1345" y="407" width="3" height="1"/>
<rect x="1345" y="400" width="3" height="1"/>
<rect x="1345" y="392" width="3" height="1"/>
<rect x="1345" y="385" width="3" height="1"/>
<rect x="1340" y="377" width="8" height="1"/>
<rect x="1345" y="370" width="3" height="1"/>
<rect x="1345" y="362" width="3" height="1"/>
<rect x="1345" y="355" width="3" height="1"/>
<rect x="1345" y="347" width="3" height="1"/>
<rect x="1340" y="340" width="8" height="1"/>
<rect x="1345" y="332" width="3" height="1"/>
<rect x="1345" y="324" width="3" height="1"/>
<rect x="1345" y="317" width="3" height="1"/>
<rect x="1345" y="309" width="3" height="1"/>
<rect x="1340" y="302" width="8" height="1"/>
<rect x="1345" y="294" width="3" height="1"/>
<rect x="1345" y="287" width="3" height="1"/>
<rect x="1345" y="279" width="3" height="1"/>
<rect x="1345" y="272" width="3" height="1"/>
<rect x="1340" y="264" width="8" height="1"/>
<rect x="1345" y="257" width="3" height="1"/>
<rect x="1345" y="249" width="3" height="1"/>
<rect x="1345" y="241" width="3" height="1"/>
<rect x="1345" y="234" width="3" height="1"/>
<rect x="1340" y="226" width="8" height="1"/>
<rect x="1345" y="219" width="3" height="1"/>
<rect x="1345" y="211" width="3" height="1"/>
<rect x="1345" y="204" width="3" height="1"/>
<rect x="1345" y="196" width="3" height="1"/>
<rect x="1340" y="189" width="8" height="1"/>
<rect x="1345" y="181" width="3" height="1"/>
<rect x="1345" y="174" width="3" height="1"/>
<rect x="1345" y="166" width="3" height="1"/>
<rect x="1345" y="158" width="3" height="1"/>
<rect x="1340" y="151" width="8" height="1"/>
<rect x="1345" y="143" width="3" height="1"/>
<rect x="1345" y="136" width="3" height="1"/>
<rect x="1345" y="128" width="3" height="1"/>
<rect x="1345" y="121" width="3" height="1"/>
<rect x="1340" y="113" width="8" height="1"/>
<rect x="1345" y="106" width="3" height="1"/>
<rect x="1345" y="98" width="3" height="1"/>
<rect x="1345" y="91" width="3" height="1"/>
<rect x="1345" y="83" width="3" height="1"/>
<rect x="1340" y="76" width="8" height="1"/>
<rect x="1345" y="68" width="3" height="1"/>
<rect x="1345" y="60" width="3" height="1"/>
<rect x="1345" y="53" width="3" height="1"/>
<rect x="1345" y="45" width="3" height="1"/>
<rect x="1340" y="38" width="8" height="1"/>
<rect x="1340" y="723" width="8" height="1"/>
<rect x="1345" y="713" width="3" height="1"/>
<rect x="1345" y="703" width="3" height="1"/>
<rect x="1345" y="692" width="3" height="1"/>
<rect x="1345" y="682" width="3" height="1"/>
<rect x="1340" y="672" width="8" height="1"/>
<rect x="1345" y="662" width="3" height="1"/>
<rect x="1345" y="652" width="3" height="1"/>
<rect x="1345" y="642" width="3" height="1"/>
<rect x="1345" y="631" width="3" height="1"/>
<rect x="1340" y="621" width="8" height="1"/>
<rect x="1345" y="611" width="3" height="1"/>
<rect x="1345" y="895" width="3" height="1"/>
<rect x="1340" y="887" width="8" height="1"/>
<rect x="1345" y="879" width="3" height="1"/>
<rect x="1345" y="870" width="3" height="1"/>
<rect x="1345" y="862" width="3" height="1"/>
<rect x="1340" y="854" width="8" height="1"/>
<rect x="1345" y="846" width="3" height="1"/>
<rect x="1345" y="838" width="3" height="1"/>
<rect x="1345" y="830" width="3" height="1"/>
<rect x="1340" y="822" width="8" height="1"/>
<rect x="1345" y="814" width="3" height="1"/>
<rect x="1345" y="805" width="3" height="1"/>
<rect x="1345" y="797" width="3" height="1"/>
<rect x="1340" y="789" width="8" height="1"/>
<rect x="1345" y="781" width="3" height="1"/>
<rect x="1345" y="773" width="3" height="1"/>
<rect x="1345" y="765" width="3" height="1"/>
<rect x="1340" y="757" width="8" height="1"/>
<rect x="1345" y="749" width="3" height="1"/>
<rect x="1345" y="740" width="3" height="1"/>
</g>
<g fill="#58e828" font-size="16.3px">
<text x="1355" y="572.0">200,00</text>
<text x="1355" y="534.3">210,00</text>
<text x="1355" y="496.6">220,00</text>
<text x="1355" y="458.9">230,00</text>
<text x="1355" y="421.1">240,00</text>
<text x="1355" y="383.4">250,00</text>
<text x="1355" y="345.7">260,00</text>
<text x="1355" y="308.0">270,00</text>
<text x="1355" y="270.3">280,00</text>
<text x="1355" y="232.6">290,00</text>
<text x="1355" y="194.9">300,00</text>
<text x="1355" y="157.1">310,00</text>
<text x="1355" y="119.4">320,00</text>
<text x="1355" y="81.7">330,00</text>
<text x="1355" y="44.0">340,00</text>
<text x="1355" y="678">50</text><text x="1355" y="729.8">0</text>
<text x="1355" y="762.5">4</text><text x="1355" y="794.8">2</text><text x="1355" y="860.6">-2</text><text x="1355" y="893.2">-4</text>
<text x="398.8" y="914">2015</text><text x="814.8" y="914">2016</text>
</g>
<rect x="1350" y="286" width="49" height="10" fill="#fff"/>
<clipPath id="cw"><rect x="1350" y="286" width="49" height="10"/></clipPath>
<text x="1350.8" y="301.6" font-size="16.3px" fill="#8c8c8c" textLength="47.5" lengthAdjust="spacingAndGlyphs" clip-path="url(#cw)">271,55</text>
<rect x="1350" y="296" width="49" height="20" fill="#000"/>
<text x="1350.8" y="311.8" font-size="16.3px" fill="#a6a6a6" textLength="47.5" lengthAdjust="spacingAndGlyphs">269,05</text>
<rect x="1350" y="422" width="49" height="20" fill="#ff0000"/>
<text x="1350.8" y="437.8" font-size="16.3px" fill="#d29c9c" textLength="47.5" lengthAdjust="spacingAndGlyphs">235,45</text>
<rect x="1350" y="611" width="49" height="20" fill="#8b008b"/>
<text x="1350.8" y="626.8" font-size="16.3px" fill="#bd94bd" textLength="47.5" lengthAdjust="spacingAndGlyphs">100,00</text>
<rect x="1350" y="808" width="49" height="19" fill="#ffff1e"/>
<text x="1350.8" y="823.6" font-size="16.3px" fill="#8c8c50" textLength="47.5" lengthAdjust="spacingAndGlyphs">0,2643</text>
<rect x="1236" y="898" width="62" height="20" fill="#ffff1e"/>
<text x="1237" y="914" font-size="16.3px" fill="#8a8a40" textLength="60" lengthAdjust="spacingAndGlyphs">27.01.17</text>
<text x="707" y="13" font-size="11.1px" font-weight="bold" text-anchor="middle" fill="#1a0000" xml:space="preserve">HG2-057:  Copper HG NYMX (Comb) Cont Liq @ NYMEX  (Weekly bars)</text>
<text x="707" y="28.3" font-size="12.7px" text-anchor="middle" fill="#1a0000">www.TradeNavigator.com © 1999-2017</text>
<text x="875" y="46" font-size="15.5px" fill="#fff">MovingAvg (C,4)</text>
<text x="999.8" y="46" font-size="15.6px" fill="#f01818">MovingAvg (C,39)</text>
<text x="1134" y="46" font-size="15.8px" fill="#000">03.03.2017 = 269,05 (-0,55)</text>
<text x="5" y="598.8" font-size="10.85px" fill="#000">TradeNavigator.com</text>
<text x="1270.5" y="617.6" font-size="15.6px" fill="#8b008b" textLength="58" lengthAdjust="spacingAndGlyphs">Small OI</text>
<text x="1235.5" y="747.6" font-size="15.8px" fill="#ffff1e">Professionals</text>
<text class="mono" x="0.5" y="929.6" font-size="11.5px" font-weight="bold" fill="#2a0000">Eigentum ZYXA</text>
<line x1="1275.0" y1="678.5" x2="1310.8" y2="636.7" stroke="#0000a8" stroke-width="3" stroke-linecap="round"/><polygon fill="#0000a8" points="1317.0,629.5 1314.1,639.5 1307.6,633.9"/>
<line x1="1283.0" y1="756.0" x2="1311.4" y2="801.0" stroke="#0000a8" stroke-width="3" stroke-linecap="round"/><polygon fill="#0000a8" points="1316.5,809.0 1307.8,803.3 1315.1,798.7"/>
<defs><linearGradient id="tg" x1="0" y1="0" x2="0" y2="1"><stop offset="0" stop-color="#fff2a8"/><stop offset="0.45" stop-color="#e2c040"/><stop offset="1" stop-color="#9c8420"/></linearGradient><linearGradient id="cg" x1="0" y1="0" x2="1" y2="0"><stop offset="0" stop-color="#f4dc70"/><stop offset="0.5" stop-color="#e8c838"/><stop offset="1" stop-color="#c8a428"/></linearGradient></defs>
<g id="icon"><path d="M4.8 23.3 Q19 35.8 33 23.8" fill="none" stroke="#ecd040" stroke-width="4.6"/><path d="M3.6 25.2 Q19 38.6 34.4 25.6" fill="none" stroke="#d4a830" stroke-width="1.4" stroke-dasharray="1.1 1"/><path d="M10.6 24 L15.2 16.4" stroke="#efc470" stroke-width="1.5" fill="none"/><path d="M11.5 19.8 H26.2" stroke="#f2c47c" stroke-width="1.6" fill="none"/><path d="M23.4 11.2 L25.8 10.2 L27.2 12.4 L26.6 16.2 L27.8 17.6 L27.2 23.6 L25.2 24.4 L25 18 L23.2 15.2Z" fill="#ecd058"/><rect x="4.1" y="11" width="12" height="5.8" rx="1" fill="url(#tg)"/><path d="M16.4 7.6 L21.6 7.6 L20.7 17 L20.9 23 L24 32.6 L22.4 34.4 L15 34.4 L13.8 32 L16.9 23 L17.3 17Z" fill="url(#cg)"/><ellipse cx="19.2" cy="5.6" rx="3.7" ry="2.7" fill="#f0d868"/><ellipse cx="19.4" cy="4.6" rx="1.8" ry="1" fill="#f8e8b0"/></g>
</svg></body></html>
